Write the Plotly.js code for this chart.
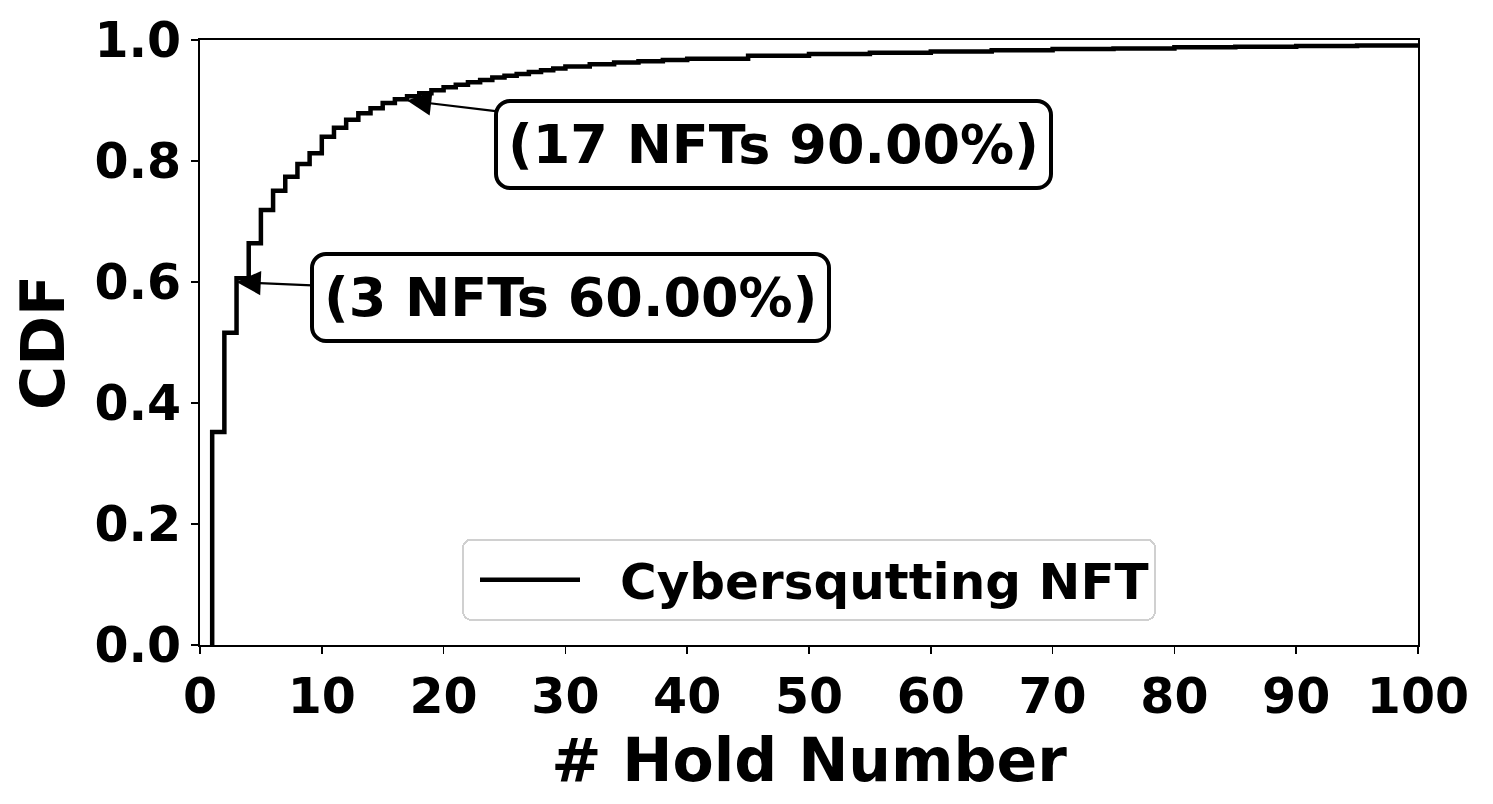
<!DOCTYPE html>
<html>
<head>
<meta charset="utf-8">
<script src="https://cdn.plot.ly/plotly-3.0.1.min.js"></script>
<style>
  html, body { margin: 0; padding: 0; background: #fff; }
  #chart { width: 1493px; height: 804px; }
</style>
</head>
<body>
<div id="chart"></div>
<script>
const holdNumber = [1, 1, 2, 3, 4, 5, 6, 7, 8, 9, 10, 11, 12, 13, 14, 15, 16, 17, 18, 19, 20,
  21, 22, 23, 24, 25, 26, 27, 28, 29, 30, 32, 34, 36, 38, 40, 45, 50, 55, 60,
  65, 70, 75, 80, 85, 90, 95, 100];
const cdfValue = [0, 0.352, 0.516, 0.606, 0.664, 0.719, 0.751, 0.774, 0.795, 0.813, 0.840,
  0.855, 0.868, 0.879, 0.887, 0.896, 0.902, 0.907, 0.912, 0.917, 0.922,
  0.926, 0.930, 0.934, 0.938, 0.941, 0.944, 0.947, 0.950, 0.953, 0.956,
  0.960, 0.963, 0.965, 0.967, 0.969, 0.974, 0.977, 0.979, 0.981,
  0.983, 0.985, 0.986, 0.988, 0.989, 0.990, 0.991, 0.992];
const seriesName = "Cybersqutting NFT";

// highlighted points
const markX = [17, 3];
const markY = [0.90, 0.60];
const markText = ["(17 NFTs 90.00%)", "(3 NFTs 60.00%)"];
const markOffset = [[366, 44], [334, 15]];

const FONT = "DejaVu Sans, Verdana, sans-serif";

const trace = {
  type: "scatter",
  mode: "lines",
  x: holdNumber,
  y: cdfValue,
  name: seriesName,
  line: { color: "#000", width: 4.5, shape: "hv" },
  showlegend: true
};

const annotations = markX.map((x, i) => ({
  x: x, y: markY[i], xref: "x", yref: "y",
  text: markText[i],
  showarrow: true,
  ax: markOffset[i][0], ay: markOffset[i][1],
  arrowhead: 2, arrowsize: 2.2, arrowwidth: 2.2, arrowcolor: "#000",
  font: { family: FONT, size: 54, color: "#000", weight: "bold" },
  bgcolor: "#fff", bordercolor: "#000", borderwidth: 4, borderpad: 10
}));

const layout = {
  width: 1493, height: 804,
  margin: { l: 200, r: 75, t: 40, b: 159 },
  paper_bgcolor: "#fff", plot_bgcolor: "#fff",
  font: { family: FONT, color: "#000" },
  showlegend: true,
  legend: {
    x: 0.5, y: 0.04, xanchor: "center", yanchor: "bottom",
    bgcolor: "#fff", bordercolor: "#d0d0d0", borderwidth: 2,
    font: { family: FONT, size: 50, color: "#000", weight: "bold" },
    itemwidth: 146
  },
  xaxis: {
    range: [0, 100], dtick: 10, tick0: 0,
    showgrid: false, zeroline: false,
    showline: true, mirror: true, linecolor: "#000", linewidth: 2,
    ticks: "outside", ticklen: 7, tickwidth: 1.5, tickcolor: "#000",
    tickfont: { family: FONT, size: 49, weight: "bold" },
    title: { text: "# Hold Number", font: { family: FONT, size: 60, weight: "bold" }, standoff: 14 }
  },
  yaxis: {
    range: [0, 1], dtick: 0.2, tick0: 0, tickformat: ".1f",
    showgrid: false, zeroline: false,
    showline: true, mirror: true, linecolor: "#000", linewidth: 2,
    ticks: "outside", ticklen: 7, tickwidth: 1.5, tickcolor: "#000",
    tickfont: { family: FONT, size: 49, weight: "bold" },
    title: { text: "CDF", font: { family: FONT, size: 60, weight: "bold" }, standoff: 10 }
  },
  annotations: annotations
};

Plotly.newPlot("chart", [trace], layout, { displayModeBar: false, staticPlot: true }).then(gd => {
  // rounded boxes like the original
  gd.querySelectorAll(".annotation .bg").forEach(r => { r.setAttribute("rx", 14); r.setAttribute("ry", 14); });
  gd.querySelectorAll(".legend .bg").forEach(r => { r.setAttribute("rx", 8); r.setAttribute("ry", 8); });
  // shorter legend line sample with a gap before the label
  gd.querySelectorAll(".legend .legendlines path").forEach(p => p.setAttribute("d", "M16,0h100"));
});
</script>
</body>
</html>
